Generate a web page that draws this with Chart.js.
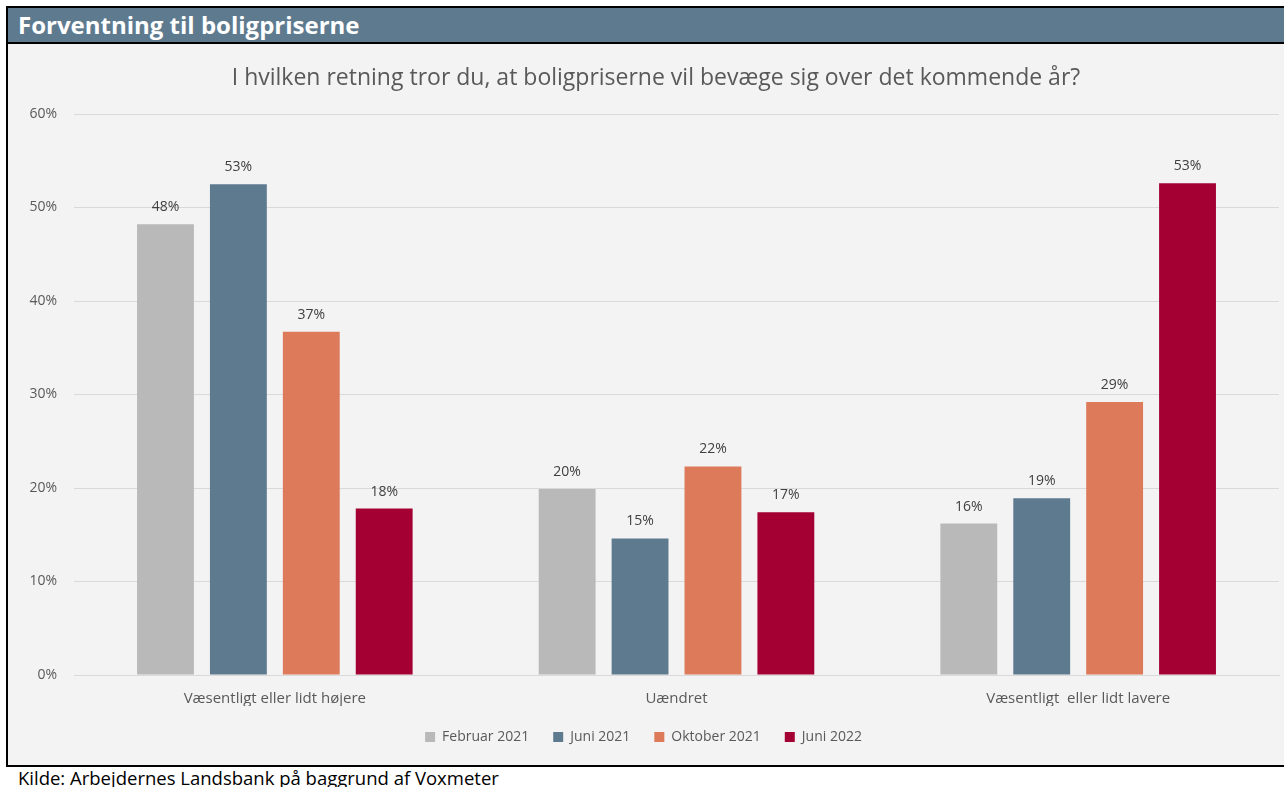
<!DOCTYPE html>
<html>
<head>
<meta charset="utf-8">
<script src="https://cdn.jsdelivr.net/npm/chart.js@4.4.0/dist/chart.umd.min.js"></script>
<style>
  html, body { margin: 0; padding: 0; background: #ffffff; width: 1284px; height: 787px; overflow: hidden; }
  #frame { position: absolute; left: 6px; top: 6px; width: 1290px; height: 757px; border-left: 2px solid #000; border-top: 2px solid #000; border-bottom: 2px solid #000; box-sizing: content-box; overflow: hidden; }
  #header { position: absolute; left: 0; top: 0; width: 1290px; height: 34px; background: #5e7a8f; border-bottom: 2px solid #000; }
  #header span { position: absolute; left: 10px; top: 0; color: #fff; font-family: "Open Sans", sans-serif; font-weight: bold; font-size: 24px; line-height: 34px; white-space: nowrap; }
  #plotbg { position: absolute; left: 0; top: 36px; width: 1290px; height: 721px; background: #f3f3f3; }
  #wrap { position: absolute; left: 0; top: 36px; width: 1276px; height: 719px; }
  #ctitle { position: absolute; left: 18px; top: 62px; width: 1276px; text-align: center; font-family: "Open Sans", sans-serif; font-size: 23px; line-height: 28px; color: #595959; white-space: nowrap; }
  #footer { position: absolute; left: 18px; top: 767px; font-family: "Open Sans", sans-serif; font-size: 18.5px; color: #000; line-height: 22px; white-space: nowrap; }
</style>
</head>
<body>
<div id="frame">
  <div id="header"><span>Forventning til boligpriserne</span></div>
  <div id="plotbg"></div>
  <div id="wrap"><canvas id="c" width="1276" height="719"></canvas></div>
</div>
<div id="ctitle"></div>
<div id="footer">Kilde: Arbejdernes Landsbank på baggrund af Voxmeter</div>
<script>
const categories = ["Væsentligt eller lidt højere", "Uændret", "Væsentligt  eller lidt lavere"];
const seriesNames = ["Februar 2021", "Juni 2021", "Oktober 2021", "Juni 2022"];
const februar2021 = [48.2, 19.9, 16.2];
const juni2021 = [52.5, 14.6, 18.9];
const oktober2021 = [36.7, 22.3, 29.2];
const juni2022 = [17.8, 17.4, 52.6];
const yTicks = [0, 10, 20, 30, 40, 50, 60];
const colors = ["#b9b9b9", "#5e7a8f", "#dc7a5a", "#a50034"];
const chartTitle = "I hvilken retning tror du, at boligpriserne vil bevæge sig over det kommende år?";

document.getElementById('ctitle').textContent = chartTitle;

const FONT = "'Open Sans', sans-serif";
const seriesData = [februar2021, juni2021, oktober2021, juni2022];

const valueLabels = {
  id: 'valueLabels',
  afterDatasetsDraw(chart) {
    const ctx = chart.ctx;
    ctx.save();
    ctx.font = "14px " + FONT;
    ctx.fillStyle = "#404040";
    ctx.textAlign = "center";
    ctx.textBaseline = "middle";
    chart.data.datasets.forEach((ds, i) => {
      const meta = chart.getDatasetMeta(i);
      meta.data.forEach((el, j) => {
        ctx.fillText(Math.round(ds.data[j]) + "%", el.x, el.y - 17);
      });
    });
    ctx.restore();
  }
};

new Chart(document.getElementById('c'), {
  type: 'bar',
  data: {
    labels: categories,
    datasets: seriesData.map((d, i) => ({
      label: seriesNames[i],
      data: d,
      backgroundColor: colors[i],
      borderWidth: 0,
      categoryPercentage: 0.726,
      barPercentage: 0.78
    }))
  },
  options: {
    responsive: false,
    animation: false,
    layout: { padding: { left: 0, right: 5, top: 70, bottom: 9 } },
    plugins: {
      title: { display: false },
      legend: {
        position: 'bottom',
        labels: {
          color: "#595959",
          font: { family: FONT, size: 14 },
          boxWidth: 10,
          boxHeight: 10,
          padding: 24
        }
      },
      tooltip: { enabled: false }
    },
    scales: {
      x: {
        grid: { display: false, drawTicks: false },
        border: { display: true, color: "#d9d9d9", width: 1 },
        ticks: { color: "#595959", font: { family: FONT, size: 15 }, padding: 15 },
        afterFit: (s) => { s.height = 31; }
      },
      y: {
        min: 0, max: 60,
        afterBuildTicks: (s) => { s.ticks = yTicks.map(v => ({ value: v })); },
        grid: { color: "#d9d9d9", drawTicks: false },
        border: { display: false },
        ticks: { color: "#595959", font: { family: FONT, size: 14 }, padding: 17, callback: (v) => v + "%" },
        afterFit: (s) => { s.width = 66; }
      }
    }
  },
  plugins: [valueLabels]
});
</script>
</body>
</html>
